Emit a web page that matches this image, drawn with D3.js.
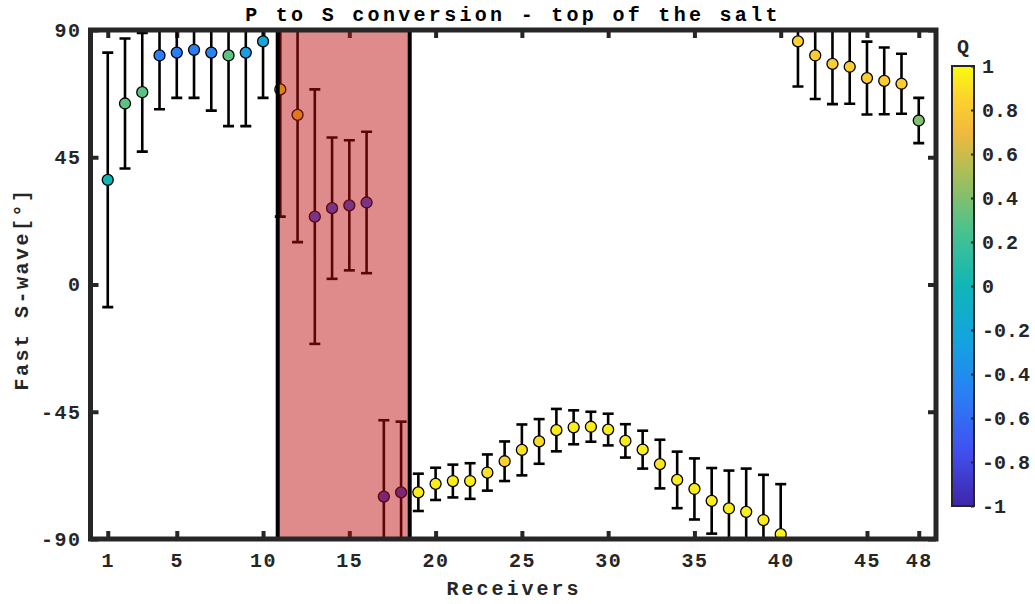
<!DOCTYPE html>
<html>
<head>
<meta charset="utf-8">
<script src="https://cdn.jsdelivr.net/npm/d3@7"></script>
<style>
	body { margin: 0; background: #fff; }
	text { font-family: "Liberation Mono", "DejaVu Sans Mono", monospace; font-weight: bold; fill: #262626; }
</style>
</head>
<body>
<div id="svg-container"></div>
<script>


// DATA
const receivers = [1, 2, 3, 4, 5, 6, 7, 8, 9, 10, 11, 12, 13, 14, 15, 16, 17, 18, 19, 20, 21, 22, 23, 24,
	25, 26, 27, 28, 29, 30, 31, 32, 33, 34, 35, 36, 37, 38, 39, 40, 41, 42, 43, 44, 45, 46, 47, 48];
const fastAngle = [37, 64, 68, 81, 82, 83, 82, 81, 82, 86, 69, 60, 24, 27, 28, 29, -75, -73.5,
	-73.5, -70.5, -69.5, -69.5, -66.5, -62.5, -58.5, -55.5, -51.5, -50.5, -50.3, -51.3, -55.3, -58.4,
	-63.5, -69.1, -72.3, -76.5, -79.2, -80.4, -83.3, -88.3, 86, 81, 78, 77, 73, 72, 71, 58];
const angleError = [45, 23, 21, 19, 16, 17, 20.5, 25, 26, 20, 45, 45, 45, 25, 23, 25, 27, 25,
	6.6, 5.7, 5.8, 6.3, 6.4, 7, 9, 7.9, 7.5, 6, 5.3, 5.6, 5.9, 6.7,
	8.6, 10, 10.8, 11.6, 13.4, 15.3, 16, 17.7, 16, 15.4, 14.2, 13.1, 12.9, 11.8, 10.6, 8];
const qValue = [0, 0.3, 0.3, -0.5, -0.5, -0.5, -0.45, 0.3, -0.3, -0.2, 0.95, 0.88, -0.7, -0.7, -0.7, -0.7, -0.85, -0.85,
	0.95, 0.95, 0.95, 0.95, 0.9, 0.85, 0.9, 0.88, 0.95, 0.95, 0.95, 0.95, 0.95, 0.95,
	0.92, 0.95, 0.95, 0.95, 0.95, 0.95, 0.95, 0.97, 0.85, 0.82, 0.82, 0.82, 0.82, 0.82, 0.82, 0.4];

const xTicks = [1, 5, 10, 15, 20, 25, 30, 35, 40, 45, 48];
const yTicks = [-90, -45, 0, 45, 90];
const qTicks = [-1, -0.8, -0.6, -0.4, -0.2, 0, 0.2, 0.4, 0.6, 0.8, 1];

// receivers range inside the salt
const saltZone = [10.85, 18.5];

// parula-like colormap
const parulaStops = [-1, -0.75, -0.5, -0.25, 0, 0.25, 0.5, 0.7, 0.85, 1];
const parulaColors = ["#3e26a8", "#4150f0", "#2a7ef5", "#13a3e0", "#10b6b6", "#48c38e", "#a5be5a", "#f2b93c", "#fdd22e", "#f9fb0e"];




// SCATTER PLOT WITH ERROR BARS
function graphData() {
	// graph dimension
	const w = 1035;
	const h = 604;
	const padTop = 30;
	const padBottom = 65;
	const padLeft = 90.5;
	const padRight = 99;

	const xScale = d3.scaleLinear()
		.domain([0, 49])
		.range([padLeft, w - padRight]);
	const yScale = d3.scaleLinear()
		.domain([-90, 90])
		.range([h - padBottom, padTop]);
	const colorScale = d3.scaleLinear()
		.domain(parulaStops)
		.range(parulaColors);

	const svg = d3.select("#svg-container")
		.append("svg")
		.attr("width", w)
		.attr("height", h);

	const defs = svg.append("defs");
	defs.append("clipPath")
		.attr("id", "plot-clip")
		.append("rect")
		.attr("x", padLeft)
		.attr("y", padTop)
		.attr("width", w - padRight - padLeft)
		.attr("height", h - padBottom - padTop);

	// ticks on all four sides (pointing inward)
	const styleAxis = g => {
		g.select(".domain").remove();
		g.selectAll(".tick line").attr("stroke", "#262626").attr("stroke-width", 4);
		g.selectAll("text").attr("font-size", 20).attr("letter-spacing", 1.5).style("fill", "#262626");
	};
	svg.append("g")
		.attr("transform", `translate(0,${h - padBottom})`)
		.call(d3.axisBottom(xScale).tickValues(xTicks).tickSizeInner(-8).tickSizeOuter(0).tickPadding(14).tickFormat(String))
		.call(styleAxis);
	svg.append("g")
		.attr("transform", `translate(0,${padTop})`)
		.call(d3.axisTop(xScale).tickValues(xTicks).tickSizeInner(-8).tickSizeOuter(0).tickFormat(""))
		.call(styleAxis);
	svg.append("g")
		.attr("transform", `translate(${padLeft},0)`)
		.call(d3.axisLeft(yScale).tickValues(yTicks).tickSizeInner(-8).tickSizeOuter(0).tickPadding(9).tickFormat(String))
		.call(styleAxis);
	svg.append("g")
		.attr("transform", `translate(${w - padRight},0)`)
		.call(d3.axisRight(yScale).tickValues(yTicks).tickSizeInner(-8).tickSizeOuter(0).tickFormat(""))
		.call(styleAxis);

	// points and error bars
	const data = receivers.map((r, i) => ({ r: r, a: fastAngle[i], e: angleError[i], q: qValue[i] }));
	const plot = svg.append("g").attr("clip-path", "url(#plot-clip)");
	const pt = plot.selectAll("g.pt")
		.data(data)
		.enter()
		.append("g")
		.attr("class", "pt");
	pt.append("line")
		.attr("x1", d => xScale(d.r))
		.attr("x2", d => xScale(d.r))
		.attr("y1", d => yScale(d.a - d.e))
		.attr("y2", d => yScale(d.a + d.e))
		.attr("stroke", "#000")
		.attr("stroke-width", 2.6);
	[-1, 1].forEach(s => {
		pt.append("line")
			.attr("x1", d => xScale(d.r) - 5.5)
			.attr("x2", d => xScale(d.r) + 5.5)
			.attr("y1", d => yScale(d.a + s * d.e))
			.attr("y2", d => yScale(d.a + s * d.e))
			.attr("stroke", "#000")
			.attr("stroke-width", 2.6);
	});
	pt.append("circle")
		.attr("cx", d => xScale(d.r))
		.attr("cy", d => yScale(d.a))
		.attr("r", 5.5)
		.attr("fill", d => colorScale(d.q))
		.attr("stroke", "#000")
		.attr("stroke-width", 1.3);

	// salt zone overlay
	svg.append("rect")
		.attr("x", xScale(saltZone[0]))
		.attr("y", padTop)
		.attr("width", xScale(saltZone[1]) - xScale(saltZone[0]))
		.attr("height", h - padBottom - padTop)
		.attr("fill", "rgb(190,12,12)")
		.attr("fill-opacity", 0.48)
		.attr("stroke", "#000")
		.attr("stroke-width", 4);

	// frame
	svg.append("rect")
		.attr("x", padLeft)
		.attr("y", padTop)
		.attr("width", w - padRight - padLeft)
		.attr("height", h - padBottom - padTop)
		.attr("fill", "none")
		.attr("stroke", "#262626")
		.attr("stroke-width", 5);

	// labels
	svg.append("text")
		.attr("x", 513)
		.attr("y", 21)
		.attr("text-anchor", "middle")
		.attr("font-size", 20)
		.attr("letter-spacing", 3.3)
		.style("fill", "#000")
		.text("P to S conversion - top of the salt");
	svg.append("text")
		.attr("x", 514)
		.attr("y", 595)
		.attr("text-anchor", "middle")
		.attr("font-size", 20)
		.attr("letter-spacing", 3)
		.text("Receivers");
	svg.append("text")
		.attr("transform", "translate(28,289) rotate(-90)")
		.attr("text-anchor", "middle")
		.attr("font-size", 20)
		.attr("letter-spacing", 2.5)
		.text("Fast S-wave[°]");

	// colorbar
	const cbX = 952;
	const cbW = 22;
	const cbScale = d3.scaleLinear().domain([-1, 1]).range([506, 66]);
	const grad = defs.append("linearGradient")
		.attr("id", "cb-grad")
		.attr("x1", 0).attr("y1", 1)
		.attr("x2", 0).attr("y2", 0);
	grad.selectAll("stop")
		.data(d3.range(0, 1.0001, 0.02))
		.enter()
		.append("stop")
		.attr("offset", d => d)
		.attr("stop-color", d => colorScale(d * 2 - 1));
	svg.append("rect")
		.attr("x", cbX)
		.attr("y", cbScale(1))
		.attr("width", cbW)
		.attr("height", cbScale(-1) - cbScale(1))
		.attr("fill", "url(#cb-grad)")
		.attr("stroke", "#262626")
		.attr("stroke-width", 2);
	svg.append("g")
		.attr("transform", `translate(${cbX + cbW},0)`)
		.call(d3.axisRight(cbScale).tickValues(qTicks).tickSizeInner(-3).tickSizeOuter(0).tickPadding(8).tickFormat(String))
		.call(g => {
			g.select(".domain").remove();
			g.selectAll(".tick line").attr("stroke", "#262626").attr("stroke-width", 2);
			g.selectAll("text").attr("font-size", 20).attr("letter-spacing", 0).style("fill", "#262626");
		});
	svg.append("text")
		.attr("x", cbX + cbW / 2)
		.attr("y", 53)
		.attr("text-anchor", "middle")
		.attr("font-size", 20)
		.text("Q");
}




document.addEventListener('DOMContentLoaded', () => {
	graphData();
});
</script>
</body>
</html>
